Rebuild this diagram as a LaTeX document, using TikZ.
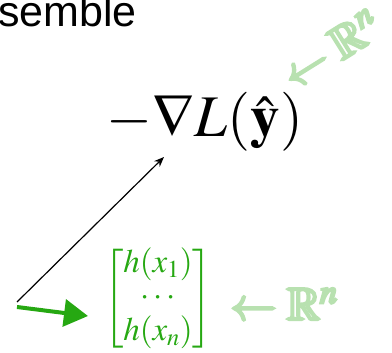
\documentclass[tikz,border=0pt]{standalone}
\usepackage{amsmath,amssymb}
\usepackage{mathptmx}
\usepackage[no-math]{fontspec}
\setsansfont{Liberation Sans}
\usetikzlibrary{arrows.meta}
\definecolor{hgreen}{RGB}{38,168,18}
\definecolor{lgreen}{RGB}{184,225,176}
\newcommand\heavy[1]{\special{pdf:literal 2 Tr 2.5 w}#1\special{pdf:literal 0 Tr 1 w}}

\begin{document}
\begin{tikzpicture}[x=1pt,y=-1pt,
  title/.style={anchor=base west,inner sep=0pt,font=\sffamily\fontsize{43}{46}\selectfont},
  formula/.style={anchor=base,inner sep=0pt,font=\fontsize{59}{62}\selectfont},
  vecbox/.style={inner sep=0pt,text=hgreen,font=\fontsize{33}{33}\selectfont},
  note/.style={inner sep=0pt,text=lgreen,font=\fontsize{46}{48}\selectfont},
  link/.style={-{Stealth[length=10pt,width=8pt]},line width=1.2pt},
  pick/.style={-{Triangle[length=24pt,width=27pt]},draw=hgreen,fill=hgreen,line width=4pt}
]
\useasboundingbox (0,0) rectangle (392,353);

\node[title] (head) at (-2,27) {semble};
\node[formula] (grad) at (205,137) {$-\nabla L(\hat{\mathbf{y}})$};
\node[vecbox] (hvec) at (158,299)
  {$\begin{bmatrix} h(x_1)\\ \cdots\\ h(x_n) \end{bmatrix}$};

% handwritten notes
\node[note,rotate=32] (rntop) at (331,49) {\heavy{$\leftarrow\mathbb{R}^n$}};
\node[note] (rnbot) at (284,304) {\heavy{$\leftarrow\mathbb{R}^n$}};

% arrows
\coordinate (src) at (17,302);
\coordinate (tip) at (164,157);
\coordinate (gsrc) at (17,307);
\coordinate (gtip) at (88,316);
\draw[link] (src) -- (tip);
\draw[pick] (gsrc) -- (gtip);
\end{tikzpicture}
\end{document}
